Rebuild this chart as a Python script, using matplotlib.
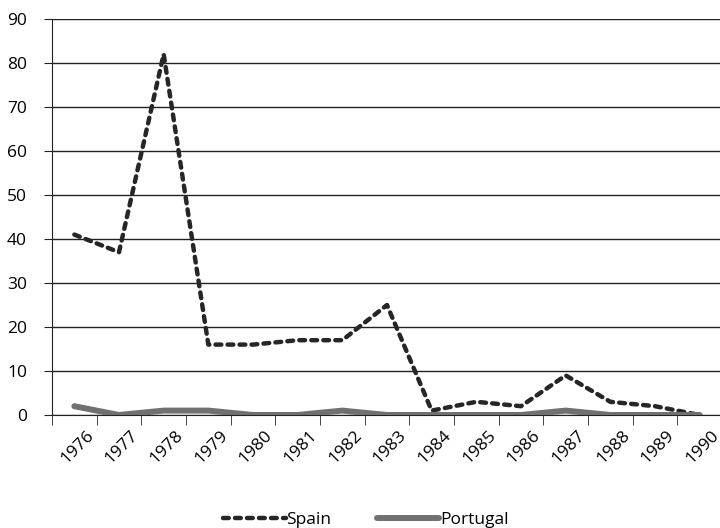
import matplotlib.pyplot as plt
from matplotlib.transforms import ScaledTranslation
import numpy as np

# data
years = ['1976', '1977', '1978', '1979', '1980', '1981', '1982', '1983',
         '1984', '1985', '1986', '1987', '1988', '1989', '1990']
spain = [41, 37, 82, 16, 16, 17, 17, 25, 1, 3, 2, 9, 3, 2, 0]
portugal = [2, 0, 1, 1, 0, 0, 1, 0, 0, 0, 0, 1, 0, 0, 0]

plt.rcParams['font.family'] = ['Open Sans', 'DejaVu Sans']
FS = 12.5

fig = plt.figure(figsize=(7.2, 5.28), dpi=100)
# plot area runs slightly past the right edge, as in the original
ax = fig.add_axes([52 / 720, 1 - 415 / 528, 670 / 720, 396 / 528])

x = np.arange(len(years))
ax.plot(x, spain, color='#262626', lw=3.2, linestyle=(0, (1.3, 1.4)),
        dash_capstyle='round', solid_capstyle='round', label='Spain',
        zorder=3)
ax.plot(x, portugal, color='#707070', lw=4.3, solid_capstyle='round',
        label='Portugal', zorder=3)

ax.set_xlim(-0.5, len(years) - 0.5)
ax.set_ylim(0, 90)
ax.set_yticks(range(0, 91, 10))
ax.yaxis.grid(True, color='#222222', lw=1)
ax.set_axisbelow(True)

ax.set_xticks(x)
ax.set_xticklabels(years, rotation=45, ha='right', va='center',
                   rotation_mode='anchor', fontsize=FS)
ax.set_xticks(np.arange(-0.5, len(years), 1), minor=True)
ax.tick_params(axis='x', which='major', length=0, pad=13)
ax.tick_params(axis='x', which='minor', length=7, color='#222222')
ax.tick_params(axis='y', length=6, color='#222222', labelsize=FS, pad=12)

# shift the slanted year labels to the right, like the original
shift = ScaledTranslation(0.17, 0, fig.dpi_scale_trans)
for lab in ax.xaxis.get_majorticklabels():
    lab.set_transform(lab.get_transform() + shift)

for s in ['top', 'right']:
    ax.spines[s].set_visible(False)
ax.spines['left'].set_color('#222222')
ax.spines['bottom'].set_color('#222222')

fig.legend(loc='lower center', bbox_to_anchor=(0.508, -0.03), ncol=2,
           frameon=False, fontsize=FS, handlelength=3.6, handletextpad=0.05,
           columnspacing=2.6)

fig.savefig('out.png', dpi=100)
